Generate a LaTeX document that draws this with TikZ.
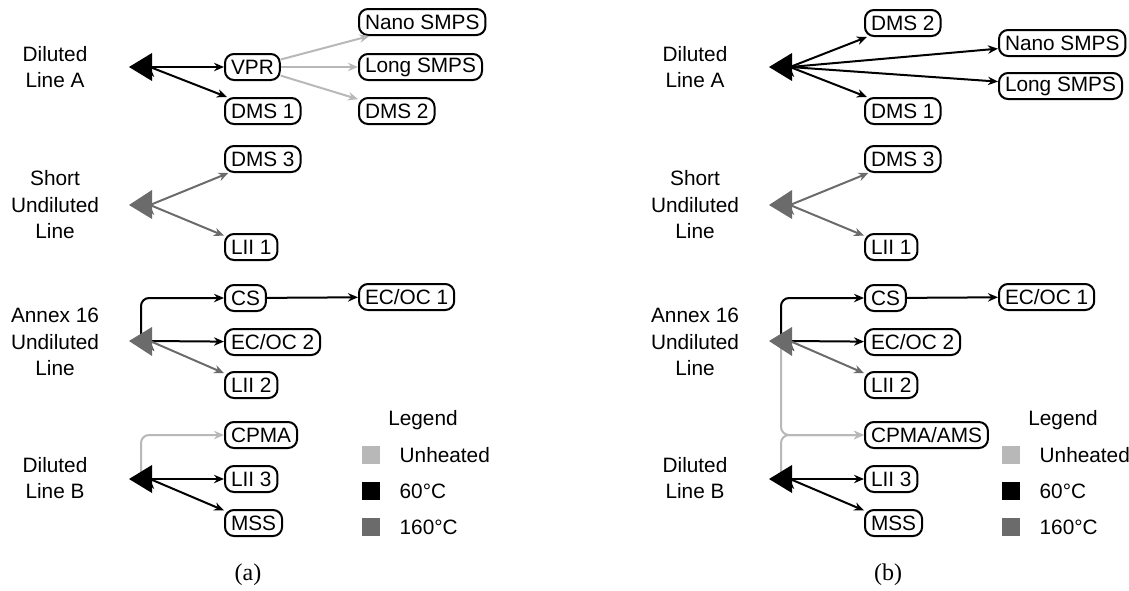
\documentclass[tikz,border=0pt]{standalone}
\usepackage{fontspec}
\setmainfont{Liberation Sans}
\newfontfamily\capfont{Liberation Serif}
\usetikzlibrary{arrows.meta}
\definecolor{cUnheated}{gray}{0.72}
\definecolor{cHot}{gray}{0.42}
\tikzstyle{instr} = [rectangle, draw, rounded corners=4.5pt, minimum height=13pt, inner xsep=3pt, inner ysep=0pt, anchor=west]
\tikzstyle{site} = [align=center]
\tikzstyle{line60} = [->, draw=black]
\tikzstyle{line160} = [->, draw=cHot]
\tikzstyle{lineU} = [->, draw=cUnheated]
\tikzstyle{swatch} = [minimum size=9pt, inner sep=0pt]
\tikzstyle{legtext} = [anchor=west]
\tikzstyle{caption} = [font=\capfont\fontsize{12}{14}\selectfont]

\begin{document}
\begin{tikzpicture}[>={Stealth[length=5pt,width=4.2pt]},line width=1pt,x=0.5pt,y=-0.5pt,font=\fontsize{10.4}{13.25}\selectfont]
  \useasboundingbox (0,0) rectangle (1129,590);

  % (a)
  \node[site] (lineA) at (55,67) {Diluted\\Line A};
  \node[site] (lineS) at (55,205) {Short\\Undiluted\\Line};
  \node[site] (lineX) at (55,342) {Annex 16\\Undiluted\\Line};
  \node[site] (lineB) at (55,478) {Diluted\\Line B};
  \coordinate (srcA) at (150,67);
  \coordinate (srcS) at (150,205);
  \coordinate (srcX) at (150,341);
  \coordinate (srcXup) at (141,336);
  \coordinate (srcB) at (150,479);
  \coordinate (srcBup) at (141,472);

  \node[instr] (vpr) at (224,67) {VPR};
  \node[instr] (dms1) at (224,111) {DMS 1};
  \node[instr] (nano) at (358,22) {Nano SMPS};
  \node[instr] (long) at (358,67) {Long SMPS};
  \node[instr] (dms2) at (358,111) {DMS 2};
  \node[instr] (dms3) at (224,159) {DMS 3};
  \node[instr] (lii1) at (224,247) {LII 1};
  \node[instr] (cs) at (224,298) {CS};
  \node[instr] (ecoc1) at (358,297) {EC/OC 1};
  \node[instr] (ecoc2) at (224,342) {EC/OC 2};
  \node[instr] (lii2) at (224,385) {LII 2};
  \node[instr] (cpma) at (224,435) {CPMA};
  \node[instr] (lii3) at (224,479) {LII 3};
  \node[instr] (mss) at (224,523) {MSS};

  \path[line60] (srcA) edge (vpr) edge (dms1);
  \path[lineU] (vpr) edge (nano) edge (long) edge (dms2);
  \path[line160] (srcS) edge (dms3) edge (lii1);
  \draw[line60, rounded corners=4pt] (srcXup) |- (cs);
  \path[line60] (cs) edge (ecoc1);
  \path[line60] (srcX) edge (ecoc2);
  \path[line160] (srcX) edge (lii2);
  \draw[lineU, rounded corners=4pt] (srcBup) |- (cpma);
  \path[line60] (srcB) edge (lii3) edge (mss);

  \fill[black] (129,67) -- (152,53) -- (152,81) -- cycle;
  \fill[cHot] (129,205) -- (152,190) -- (152,219) -- cycle;
  \fill[cHot] (129,341) -- (152,327) -- (152,356) -- cycle;
  \fill[black] (129,479) -- (152,465) -- (152,493) -- cycle;

  \node (legend) at (423,420) {Legend};
  \node[swatch, fill=cUnheated] (swU) at (371,455) {};
  \node[swatch, fill=black] (sw60) at (371,491) {};
  \node[swatch, fill=cHot] (sw160) at (371,527) {};
  \node[legtext] (txtU) at (392,455) {Unheated};
  \node[legtext] (txt60) at (392,491) {60°C};
  \node[legtext] (txt160) at (392,527) {160°C};
  \node[caption] (capa) at (248,575) {(a)};

  % (b)
  \begin{scope}[xshift=320pt]
  \node[site] (lineAb) at (55,67) {Diluted\\Line A};
  \node[site] (lineSb) at (55,205) {Short\\Undiluted\\Line};
  \node[site] (lineXb) at (55,342) {Annex 16\\Undiluted\\Line};
  \node[site] (lineBb) at (55,478) {Diluted\\Line B};
  \coordinate (srcAb) at (150,67);
  \coordinate (srcSb) at (150,205);
  \coordinate (srcXb) at (150,341);
  \coordinate (srcXupb) at (141,336);
  \coordinate (srcXdnb) at (141,348);
  \coordinate (srcBb) at (150,479);
  \coordinate (srcBupb) at (141,472);

  \node[instr] (dms2b) at (224,23) {DMS 2};
  \node[instr] (nanob) at (358,43) {Nano SMPS};
  \node[instr] (longb) at (358,86) {Long SMPS};
  \node[instr] (dms1b) at (224,111) {DMS 1};
  \node[instr] (dms3b) at (224,159) {DMS 3};
  \node[instr] (lii1b) at (224,247) {LII 1};
  \node[instr] (csb) at (224,298) {CS};
  \node[instr] (ecoc1b) at (358,297) {EC/OC 1};
  \node[instr] (ecoc2b) at (224,342) {EC/OC 2};
  \node[instr] (lii2b) at (224,385) {LII 2};
  \node[instr] (cpmab) at (224,435) {CPMA/AMS};
  \node[instr] (lii3b) at (224,479) {LII 3};
  \node[instr] (mssb) at (224,523) {MSS};

  \path[line60] (srcAb) edge (dms2b) edge (nanob) edge (longb) edge (dms1b);
  \path[line160] (srcSb) edge (dms3b) edge (lii1b);
  \draw[lineU, rounded corners=4pt] (srcXdnb) |- (cpmab);
  \draw[lineU, rounded corners=4pt] (srcBupb) |- (cpmab);
  \draw[line60, rounded corners=4pt] (srcXupb) |- (csb);
  \path[line60] (csb) edge (ecoc1b);
  \path[line60] (srcXb) edge (ecoc2b);
  \path[line160] (srcXb) edge (lii2b);
  \path[line60] (srcBb) edge (lii3b) edge (mssb);

  \fill[black] (129,67) -- (152,53) -- (152,81) -- cycle;
  \fill[cHot] (129,205) -- (152,190) -- (152,219) -- cycle;
  \fill[cHot] (129,341) -- (152,327) -- (152,356) -- cycle;
  \fill[black] (129,479) -- (152,465) -- (152,493) -- cycle;

  \node (legendb) at (423,420) {Legend};
  \node[swatch, fill=cUnheated] (swUb) at (371,455) {};
  \node[swatch, fill=black] (sw60b) at (371,491) {};
  \node[swatch, fill=cHot] (sw160b) at (371,527) {};
  \node[legtext] (txtUb) at (392,455) {Unheated};
  \node[legtext] (txt60b) at (392,491) {60°C};
  \node[legtext] (txt160b) at (392,527) {160°C};
  \node[caption] (capb) at (248,575) {(b)};
  \end{scope}
\end{tikzpicture}
\end{document}
